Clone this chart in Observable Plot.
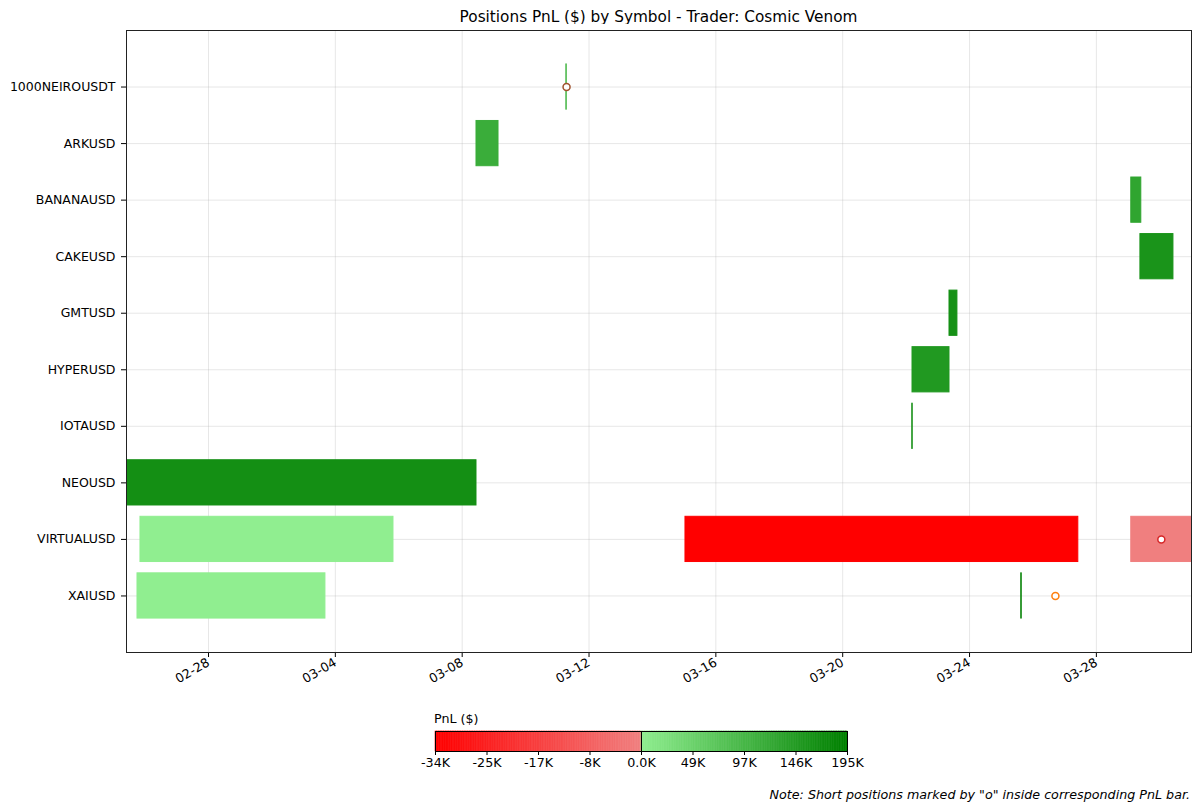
<!DOCTYPE html>
<html><head><meta charset="utf-8">
<script src="https://cdn.jsdelivr.net/npm/d3@7"></script>
<script src="https://cdn.jsdelivr.net/npm/@observablehq/plot@0.6"></script>
<style>
body{margin:0;background:#fff;font-family:"DejaVu Sans",sans-serif;color:#000;}
#wrap{position:relative;width:1200px;height:811px;overflow:hidden;}
#title{position:absolute;left:126px;width:1065px;top:7px;text-align:center;font-size:15.3px;line-height:20px;}
#chart{position:absolute;left:0;top:24px;}
#legendLabel{position:absolute;left:434px;top:711px;font-size:12.7px;line-height:16px;}
#legend{position:absolute;left:0;top:705px;}
#note{position:absolute;right:10px;top:787px;font-size:12.7px;line-height:16px;font-style:italic;}
svg{overflow:visible;}
</style></head>
<body>
<div id="wrap">
  <div id="title">Positions PnL ($) by Symbol - Trader: Cosmic Venom</div>
  <div id="chart"></div>
  <div id="legend"></div>
  <div id="legendLabel">PnL ($)</div>
  <div id="note">Note: Short positions marked by "o" inside corresponding PnL bar.</div>
</div>
<script>
// ---- data ----
const symbols = ["1000NEIROUSDT","ARKUSD","BANANAUSD","CAKEUSD","GMTUSD","HYPERUSD","IOTAUSD","NEOUSD","VIRTUALUSD","XAIUSD"];

const posSymbol = ["1000NEIROUSDT","ARKUSD","BANANAUSD","CAKEUSD","GMTUSD","HYPERUSD","IOTAUSD","NEOUSD","VIRTUALUSD","VIRTUALUSD","VIRTUALUSD","XAIUSD","XAIUSD"];
const posStart = ["2025-03-11T06:50Z","2025-03-08T10:50Z","2025-03-29T02:25Z","2025-03-29T09:20Z","2025-03-23T08:50Z","2025-03-22T04:50Z","2025-03-22T04:40Z","2025-02-24T12:00Z","2025-02-25T20:30Z","2025-03-15T01:00Z","2025-03-29T02:25Z","2025-02-25T18:15Z","2025-03-25T15:10Z"];
const posEnd   = ["2025-03-11T07:10Z","2025-03-09T03:30Z","2025-03-29T10:00Z","2025-03-30T10:20Z","2025-03-23T14:50Z","2025-03-23T08:50Z","2025-03-22T05:00Z","2025-03-08T10:50Z","2025-03-05T20:00Z","2025-03-27T10:20Z","2025-03-31T00:00Z","2025-03-03T16:30Z","2025-03-25T15:30Z"];
const posPnl   = [95000, 116000, 130000, 160000, 165000, 150000, 170000, 168000, 500, -34000, -300, 400, 195000];

const shortSymbol = ["1000NEIROUSDT","VIRTUALUSD","XAIUSD"];
const shortTime   = ["2025-03-11T07:00Z","2025-03-30T01:10Z","2025-03-26T17:00Z"];
const shortColor  = ["#a0522d","#d62728","#ff7f0e"];

const xDomain = ["2025-02-25T09:56Z","2025-03-31T00:00Z"];
const xTicks = ["2025-02-28","2025-03-04","2025-03-08","2025-03-12","2025-03-16","2025-03-20","2025-03-24","2025-03-28"];

const pnlMin = -34000, pnlMax = 195000;
const legendTicks = ["-34K","-25K","-17K","-8K","0.0K","49K","97K","146K","195K"];

// ---- build ----
function pnlColor(v){
  if (v < 0) return d3.interpolateRgb("#ff0000","#f08080")((v - pnlMin)/(0 - pnlMin));
  return d3.interpolateRgb("#90ee90","#008000")(v / pnlMax);
}
const positions = posSymbol.map((s,i)=>({symbol:s, idx:symbols.indexOf(s), start:new Date(posStart[i]), end:new Date(posEnd[i]), pnl:posPnl[i]}));
const shorts = shortSymbol.map((s,i)=>({idx:symbols.indexOf(s), time:new Date(shortTime[i]), color:shortColor[i]}));
const xt = xTicks.map(d=>new Date(d+"T00:00Z"));
const yt = d3.range(symbols.length);

const chart = Plot.plot({
  width:1200, height:670,
  marginLeft:126, marginRight:9, marginTop:6, marginBottom:42,
  style:{fontFamily:"DejaVu Sans", fontSize:"12.7px", color:"#000", background:"#fff"},
  x:{type:"utc", domain:xDomain.map(d=>new Date(d))},
  y:{domain:[10,-1]},
  color:{type:"identity"},
  marks:[
    Plot.gridX(xt, {stroke:"#b0b0b0", strokeOpacity:0.3, strokeWidth:1}),
    Plot.gridY(yt, {stroke:"#b0b0b0", strokeOpacity:0.3, strokeWidth:1}),
    Plot.rect(positions, {x1:"start", x2:"end", y1:d=>d.idx-0.4, y2:d=>d.idx+0.4,
      fill:d=>pnlColor(d.pnl), stroke:d=>pnlColor(d.pnl), strokeWidth:1, clip:true}),
    Plot.dot(shorts, {x:"time", y:"idx", r:3.5, fill:"white", stroke:"color", strokeWidth:1.5}),
    Plot.axisX(xt, {tickFormat:d3.utcFormat("%m-%d"), tickRotate:-30, tickSize:5, tickPadding:4, label:null, fontSize:12.7}),
    Plot.axisY(yt, {tickFormat:i=>symbols[i], tickSize:5, tickPadding:6, label:null, fontSize:12.5}),
    Plot.frame({stroke:"#222", strokeWidth:1})
  ]
});
document.getElementById("chart").appendChild(chart);

// ---- colorbar legend ----
const N = 240;
const steps = d3.range(N).map(i=>{
  const a = i*8/N, b = (i+1)*8/N, m = (a+b)/2;
  const v = m < 4 ? pnlMin*(1 - m/4) : pnlMax*(m-4)/4;
  return {a, b, c:pnlColor(v)};
});
const legend = Plot.plot({
  width:1200, height:71,
  marginLeft:435, marginRight:353, marginTop:26, marginBottom:25,
  style:{fontFamily:"DejaVu Sans", fontSize:"12.7px", color:"#000", background:"transparent"},
  x:{domain:[0,8]},
  color:{type:"identity"},
  marks:[
    Plot.rect(steps, {x1:"a", x2:"b", fill:"c", stroke:"c", strokeWidth:0.6}),
    Plot.ruleX([4], {stroke:"#000", strokeWidth:1}),
    Plot.axisX(d3.range(legendTicks.length), {tickFormat:i=>legendTicks[i], tickSize:4, tickPadding:2, label:null, fontSize:12.7}),
    Plot.frame({stroke:"#000", strokeWidth:1})
  ]
});
document.getElementById("legend").appendChild(legend);
</script>
</body></html>
